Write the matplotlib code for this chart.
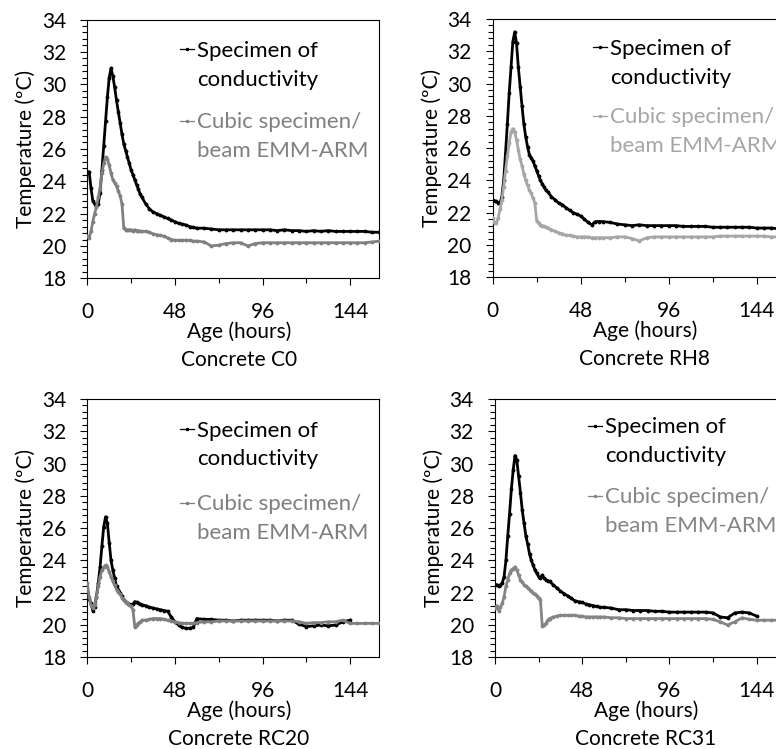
import numpy as np
import matplotlib
matplotlib.use("Agg")
import matplotlib.pyplot as plt
from matplotlib.ticker import MultipleLocator
from matplotlib.lines import Line2D
from matplotlib.transforms import offset_copy

plt.rcParams['font.family'] = ['Lato', 'DejaVu Sans']
plt.rcParams['font.size'] = 15

# logging times (hours): hourly up to 30 h, then every 2 h, then every 4 h
hours = list(range(0, 31)) + list(range(32, 61, 2)) + list(range(64, 161, 4))

nan = np.nan

c0_specimen = [24.5, 24.6, 23.6, 22.8, 22.6, 22.5, 22.6, 23.3, 24.7, 26.2, 27.7, 29.2, 30.4, 31.0, 30.5, 29.8,
               29.0, 28.3, 27.6, 26.9, 26.3, 25.9, 25.5, 25.1, 24.7, 24.4, 24.1, 23.8, 23.5, 23.2, 23.0,
               22.6, 22.3, 22.1, 22.0, 21.9, 21.8, 21.7, 21.6, 21.5, 21.4, 21.35, 21.3, 21.2, 21.15, 21.1,
               21.1, 21.05, 21.0, 21.0, 21.0, 21.0, 21.0, 21.0, 21.0, 21.0, 20.95, 21.0, 20.95, 20.95, 20.9,
               20.95, 20.9, 20.95, 20.9, 20.9, 20.9, 20.9, 20.9, 20.85, 20.85]
c0_cubic = [20.6, 20.5, 20.9, 21.5, 22.0, 22.4, 23.0, 23.6, 24.5, 25.1, 25.5, 25.4, 25.0, 24.5, 24.1, 23.9,
            23.7, 23.4, 23.1, 22.6, 21.1, 21.0, 21.0, 21.0, 21.0, 20.95, 21.0, 20.95, 20.95, 20.9, 20.9,
            20.9, 20.85, 20.75, 20.7, 20.65, 20.6, 20.5, 20.4, 20.35, 20.35, 20.35, 20.35, 20.35, 20.3, 20.3,
            20.25, 20.0, 20.05, 20.15, 20.2, 20.2, 20.0, 20.15, 20.2, 20.2, 20.2, 20.2, 20.2, 20.2, 20.2,
            20.2, 20.2, 20.2, 20.2, 20.2, 20.2, 20.2, 20.2, 20.25, 20.3]

rh8_specimen = [22.8, 22.7, 22.7, 22.6, 22.6, 23.0, 24.0, 25.7, 27.5, 29.4, 31.0, 32.6, 33.2, 32.5, 31.0, 29.8,
                28.6, 27.5, 26.7, 26.1, 25.6, 25.4, 25.2, 24.9, 24.6, 24.3, 24.0, 23.8, 23.6, 23.4, 23.3,
                23.0, 22.8, 22.6, 22.5, 22.3, 22.15, 22.0, 21.9, 21.8, 21.6, 21.4, 21.25, 21.45, 21.45, 21.45,
                21.4, 21.3, 21.25, 21.2, 21.25, 21.2, 21.2, 21.2, 21.2, 21.2, 21.15, 21.15, 21.15, 21.15, 21.1,
                21.1, 21.1, 21.1, 21.1, 21.1, 21.05, 21.05, 21.05, 21.0, 21.0]
rh8_cubic = [21.7, 21.35, 21.35, 21.7, 22.2, 22.8, 23.6, 24.6, 25.5, 26.3, 27.0, 27.2, 27.0, 26.5, 25.9, 25.3,
             24.9, 24.4, 24.0, 23.7, 23.4, 23.2, 22.9, 22.6, 21.5, 21.35, 21.25, 21.2, 21.15, 21.1, 21.05,
             20.95, 20.85, 20.75, 20.7, 20.6, 20.6, 20.55, 20.5, 20.5, 20.5, 20.5, 20.45, 20.45, 20.45, 20.45,
             20.45, 20.5, 20.5, 20.4, 20.25, 20.45, 20.5, 20.5, 20.5, 20.5, 20.5, 20.5, 20.5, 20.5, 20.5,
             20.55, 20.55, 20.55, 20.55, 20.55, 20.55, 20.55, 20.5, 20.5, 20.5]

rc20_specimen = [22.0, 21.6, 21.35, 20.9, 21.1, 21.75, 22.6, 23.6, 24.9, 26.1, 26.7, 26.3, 25.1, 24.0, 23.4, 22.9,
                 22.4, 22.2, 22.0, 21.8, 21.55, 21.45, 21.35, 21.3, 21.25, 21.3, 21.45, 21.4, 21.35, 21.3, 21.25,
                 21.2, 21.1, 21.05, 21.0, 20.95, 20.9, 20.85, 20.5, 20.2, 20.0, 19.85, 19.8, 19.8, 19.85, 20.4,
                 20.35, 20.35, 20.3, 20.3, 20.25, 20.3, 20.3, 20.3, 20.3, 20.3, 20.25, 20.3, 20.3, 20.05, 19.9,
                 19.95, 20.0, 19.95, 20.0, 20.2, 20.3, nan, nan, nan, nan]
rc20_cubic = [22.6, 21.75, 21.25, 21.05, 21.25, 21.75, 22.4, 23.0, 23.4, 23.6, 23.7, 23.6, 23.3, 23.0, 22.7, 22.45,
              22.2, 22.05, 21.9, 21.7, 21.55, 21.45, 21.35, 21.25, 21.15, 20.95, 19.9, 20.0, 20.1, 20.2, 20.3,
              20.3, 20.35, 20.4, 20.4, 20.4, 20.35, 20.3, 20.25, 20.2, 20.15, 20.1, 20.1, 20.1, 20.1, 20.15,
              20.2, 20.2, 20.25, 20.25, 20.25, 20.25, 20.25, 20.25, 20.25, 20.25, 20.25, 20.25, 20.25, 20.2, 20.1,
              20.15, 20.15, 20.2, 20.2, 20.3, 20.1, 20.1, 20.1, 20.1, 20.1]

rc31_specimen = [22.5, 22.5, 22.4, 22.5, 22.6, 23.0, 24.0, 25.5, 26.9, 28.4, 29.6, 30.5, 30.2, 29.2, 28.2, 27.1,
                 26.3, 25.5, 25.0, 24.4, 24.0, 23.7, 23.4, 23.2, 23.0, 22.9, 23.1, 22.9, 22.8, 22.75, 22.7,
                 22.5, 22.3, 22.1, 21.95, 21.8, 21.65, 21.5, 21.45, 21.4, 21.3, 21.25, 21.2, 21.15, 21.1, 21.1,
                 21.05, 20.95, 20.95, 20.9, 20.9, 20.9, 20.85, 20.85, 20.8, 20.8, 20.8, 20.8, 20.8, 20.8, 20.75,
                 20.5, 20.45, 20.75, 20.8, 20.75, 20.55, nan, nan, nan, nan]
rc31_cubic = [21.05, 21.2, 20.9, 21.1, 21.35, 21.75, 22.4, 22.8, 23.2, 23.4, 23.5, 23.6, 23.4, 23.1, 22.8, 22.65,
              22.5, 22.4, 22.3, 22.2, 22.1, 22.0, 21.9, 21.8, 21.65, 21.55, 19.95, 20.0, 20.1, 20.3, 20.4,
              20.5, 20.55, 20.6, 20.6, 20.6, 20.6, 20.6, 20.55, 20.55, 20.5, 20.5, 20.5, 20.5, 20.5, 20.5,
              20.45, 20.45, 20.4, 20.4, 20.4, 20.4, 20.4, 20.4, 20.4, 20.4, 20.4, 20.4, 20.4, 20.4, 20.35,
              20.2, 20.0, 20.2, 20.45, 20.35, 20.3, 20.3, 20.3, 20.3, 20.25]

concretes = ["C0", "RH8", "RC20", "RC31"]
specimen_series = [c0_specimen, rh8_specimen, rc20_specimen, rc31_specimen]
cubic_series = [c0_cubic, rh8_cubic, rc20_cubic, rc31_cubic]
cubic_colors = ["#808080", "#a6a6a6", "#7f7f7f", "#858585"]
specimen_label = ["Specimen of", "conductivity"]
cubic_label = ["Cubic specimen/", "beam EMM-ARM"]

# axes boxes in figure fractions (right-hand panels run past the figure edge)
boxes = [[0.1125, 0.6284, 0.3763, 0.3455],
         [0.6349, 0.6298, 0.3780, 0.3449],
         [0.1125, 0.1224, 0.3763, 0.3449],
         [0.6379, 0.1224, 0.3746, 0.3449]]
# legend: text left edge, baselines of first and second entry (axes fraction)
legend_pos = [(0.376, 0.856, 0.580),
              (0.400, 0.861, 0.596),
              (0.375, 0.854, 0.570),
              (0.378, 0.867, 0.596)]
line_step = 0.111

fig = plt.figure(figsize=(7.76, 7.49), dpi=100)

for i, name in enumerate(concretes):
    ax = fig.add_axes(boxes[i])
    spec, = ax.plot(hours, specimen_series[i], color="black", lw=2.0,
                    marker=".", ms=3.5, zorder=3)
    cub, = ax.plot(hours, cubic_series[i], color=cubic_colors[i], lw=2.0,
                   marker=".", ms=3.5, zorder=4)

    ax.set_xlim(0, 160)
    ax.set_ylim(18, 34)
    ax.xaxis.set_major_locator(MultipleLocator(48))
    ax.xaxis.set_minor_locator(MultipleLocator(24))
    ax.yaxis.set_major_locator(MultipleLocator(2))
    ax.yaxis.set_minor_locator(MultipleLocator(0.4))
    ax.tick_params(axis="x", which="major", direction="out", length=4.8, width=0.8, pad=12.5)
    ax.tick_params(axis="x", which="minor", direction="out", length=3.4, width=0.8)
    ax.tick_params(axis="y", which="major", direction="out", length=4.8, width=0.8, pad=10.5)
    ax.tick_params(axis="y", which="minor", direction="out", length=3.4, width=0.8)
    for sp in ax.spines.values():
        sp.set_linewidth(0.8)
        sp.set_color("black")

    ax.set_ylabel("Temperature (ºC)", labelpad=4)

    tr = ax.get_xaxis_transform()
    ax.text(83, 0, "Age (hours)", transform=offset_copy(tr, fig=fig, y=-53, units="dots"),
            ha="center", va="center")
    ax.text(83, 0, "Concrete " + name, transform=offset_copy(tr, fig=fig, y=-82, units="dots"),
            ha="center", va="center")

    # two-line legend entries with a short key before the first line
    lx, ly1, ly2 = legend_pos[i]
    for line, labels, ly in [(spec, specimen_label, ly1), (cub, cubic_label, ly2)]:
        c = line.get_color()
        for k, lab in enumerate(labels):
            ax.text(lx, ly - k * line_step, lab, transform=ax.transAxes,
                    ha="left", va="baseline", color=c, fontsize=16)
        key = Line2D([lx - 0.058, lx - 0.034, lx - 0.01], [ly + 0.029] * 3,
                     transform=ax.transAxes, color=c, lw=0.9,
                     marker=".", ms=3, markevery=[1])
        ax.add_line(key)

fig.savefig("out.png", dpi=100)
